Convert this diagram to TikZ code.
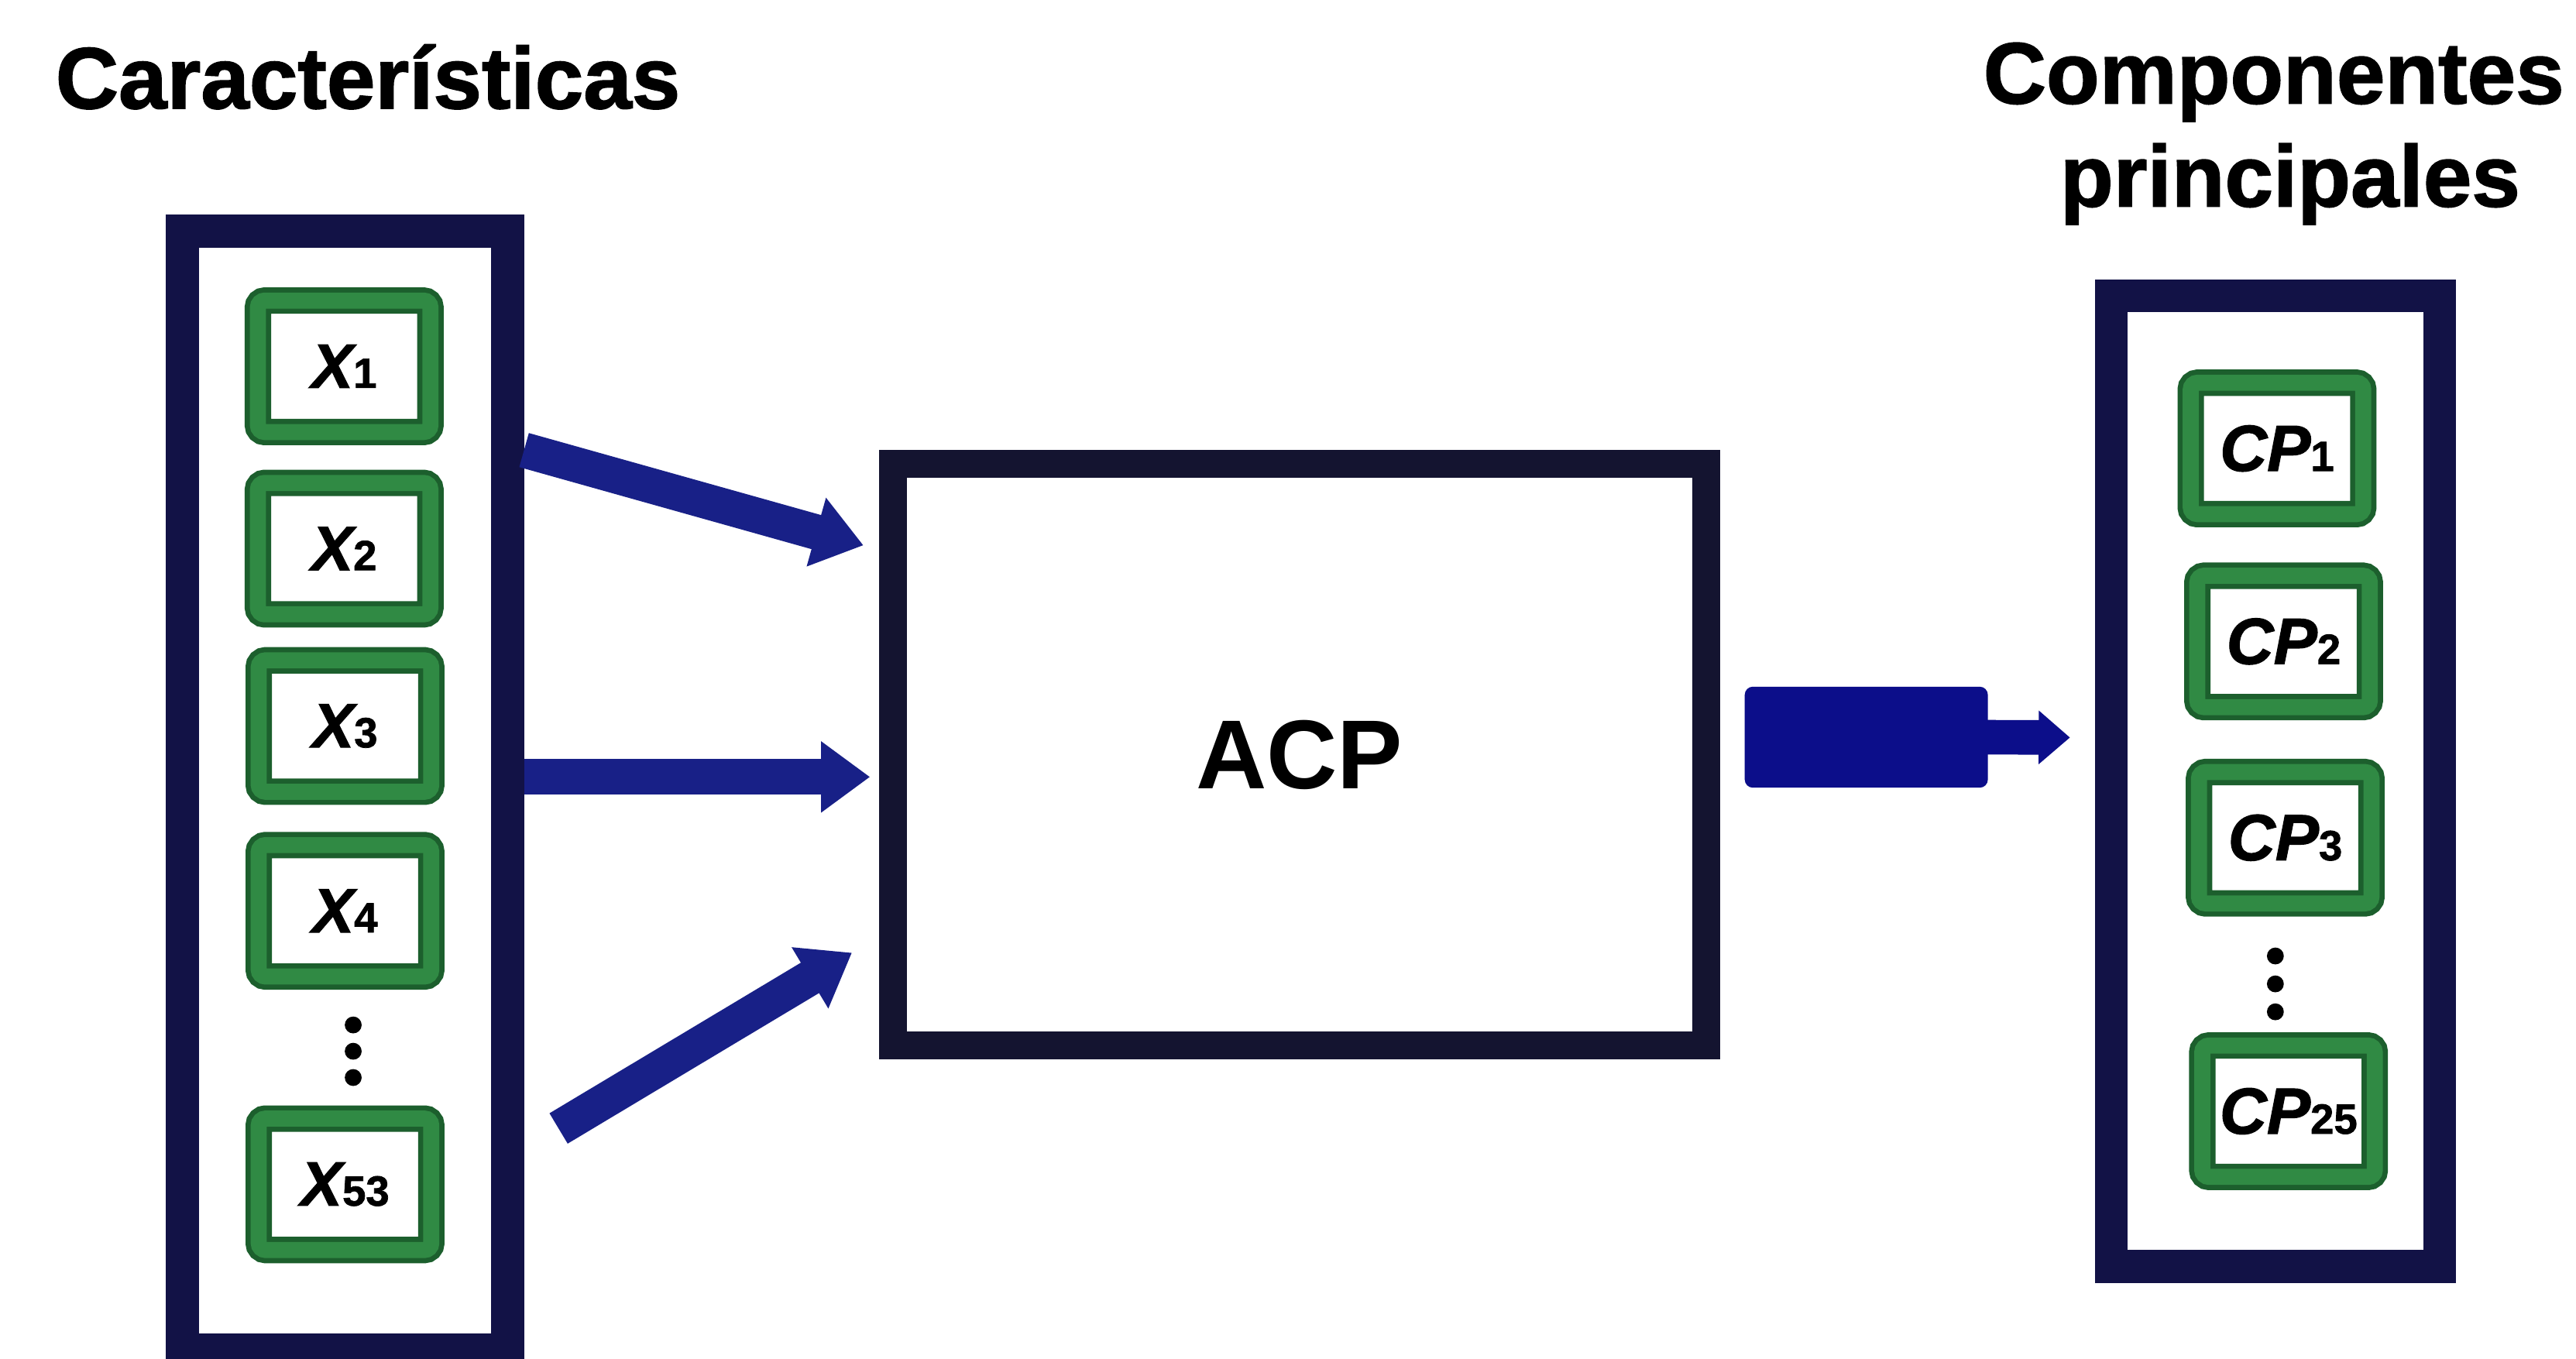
\documentclass[tikz,border=0pt]{standalone}
\usepackage{fontspec}
\setmainfont{Liberation Sans}
% a heavier cut for headings and box labels
\newfontfamily\heavy{Liberation Sans}[BoldFeatures={FakeBold=1.4}, BoldItalicFeatures={FakeBold=1.4}]
\usetikzlibrary{arrows.meta}

\definecolor{framenavy}{RGB}{18,18,70}
\definecolor{boxink}{RGB}{20,20,48}
\definecolor{arrowblue}{RGB}{24,32,135}
\definecolor{blockblue}{RGB}{12,14,138}
\definecolor{gdark}{RGB}{28,95,45}
\definecolor{gmid}{RGB}{48,138,68}

% one drawing unit
\newcommand{\pxd}{0.021212cm}
% variable label: bold italic letters with a small upright index
\newcommand{\varlab}[3]{{\heavy\fontsize{#3}{#3}\selectfont\bfseries\itshape #1}{\heavy\fontsize{15.5}{15.5}\selectfont\bfseries #2}}

\begin{document}
\begin{tikzpicture}[x=\pxd, y=-\pxd,
  heading/.style={font=\heavy\fontsize{32}{38}\selectfont\bfseries, inner sep=0pt, anchor=base},
  column/.style={rectangle, draw=framenavy, line width=12.07pt, inner sep=0pt, outer sep=0pt},
  itembox/.style={rectangle, draw=gdark, line width=1.9pt, double=gmid, double distance=5.9pt,
    rounded corners=2.5pt, fill=white, minimum width=105*\pxd, minimum height=80*\pxd, inner sep=0pt},
  process/.style={rectangle, draw=boxink, line width=10.3pt, inner sep=0pt,
    minimum width=495*\pxd, minimum height=354*\pxd, font=\fontsize{36}{40}\selectfont\bfseries},
  inarrow/.style={draw=arrowblue, line width=13pt, -{Triangle[width=25pt,length=18pt]}},
  outarrow/.style={draw=blockblue, line width=12.7pt, -{Triangle[width=19pt,length=11.5pt]}},
  dot/.style={fill=black}
]
\fill[white] (0,0) rectangle (1568,827);
\useasboundingbox (0,0) rectangle (1568,827);

% headings
\node[heading] (tfeat) at (224,66) {Características};
\node[heading] (tcomp1) at (1384,63) {Componentes};
\node[heading] (tcomp2) at (1394,125.7) {principales};

% input features column
\node[column, minimum width=198*\pxd, minimum height=681*\pxd] (feat) at (210,481.3) {};
\node[itembox] (x1) at (209.5,223) {\varlab{X}{1}{23}};
\node[itembox] (x2) at (209.5,334) {\varlab{X}{2}{23}};
\node[itembox] (x3) at (210,442) {\varlab{X}{3}{23}};
\node[itembox] (x4) at (210,554.5) {\varlab{X}{4}{23}};
\node[itembox] (x53) at (210,721) {\varlab{X}{53}{23}};
\foreach \yy in {624,640,656} \fill[dot] (215,\yy) circle[radius=3.1pt];

% principal components column
\node[column, minimum width=200*\pxd, minimum height=591*\pxd] (comp) at (1385,475.5) {};
\node[itembox] (cp1) at (1386,273) {\varlab{CP}{1}{24}};
\node[itembox] (cp2) at (1390,390.5) {\varlab{CP}{2}{24}};
\node[itembox] (cp3) at (1391,510) {\varlab{CP}{3}{24}};
\node[itembox] (cp25) at (1393,676.5) {\varlab{CP}{25}{24}};
\foreach \yy in {582,599,616} \fill[dot] (1385,\yy) circle[radius=3.1pt];

% PCA block
\node[process] (acp) at (791,459.5) {ACP};

% arrows into the PCA block
\coordinate (s1) at (319,274);
\coordinate (e1) at (525.6,332);
\coordinate (s2) at (319,473);
\coordinate (e2) at (529.6,473);
\coordinate (s3) at (340,687);
\coordinate (e3) at (518.6,580);
\draw[inarrow] (s1) -- (e1);
\draw[inarrow] (s2) -- (e2);
\draw[inarrow] (s3) -- (e3);

% output arrow
\node[rectangle, fill=blockblue, rounded corners=3pt, inner sep=0pt,
  minimum width=148*\pxd, minimum height=61.5*\pxd] (blk) at (1136,448.8) {};
\coordinate (otip) at (1260,449);
\draw[outarrow] ([xshift=-2pt]blk.east) -- (otip);
\end{tikzpicture}
\end{document}
